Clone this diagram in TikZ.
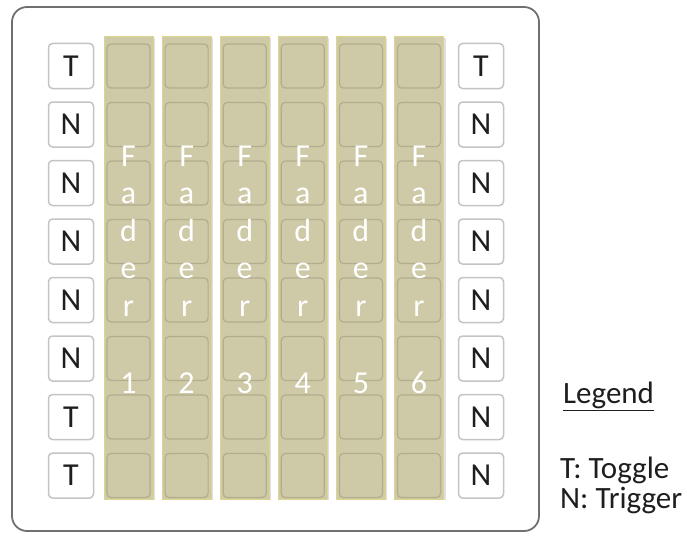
\documentclass[tikz,border=0pt]{standalone}
\usepackage{fontspec}
\setmainfont{Carlito}
\usetikzlibrary{positioning,shadows}
\definecolor{FaderFill}{HTML}{CEC9A6}
\definecolor{FaderEdge}{HTML}{DDD58E}
\definecolor{PadEdge}{HTML}{B2AD8C}
\definecolor{ButtonEdge}{HTML}{C4C4C4}
\definecolor{FrameGray}{HTML}{707070}
\definecolor{InkDark}{HTML}{1E1E1E}
\begin{document}
\begin{tikzpicture}[x=1pt,y=-1pt,
  frame/.style={draw=FrameGray,line width=1.8pt,rounded corners=15pt},
  strip/.style={draw=FaderEdge,fill=FaderFill,line width=1pt,minimum width=49pt,
                minimum height=462pt,inner sep=0pt,
                drop shadow={shadow xshift=2pt,shadow yshift=-1pt,opacity=0.25}},
  pad/.style={draw=PadEdge,line width=1.2pt,rounded corners=4pt,minimum width=43pt,
              minimum height=44pt,inner sep=0pt},
  button/.style={draw=ButtonEdge,fill=white,line width=1.5pt,rounded corners=4pt,
                 minimum size=45pt,inner sep=0pt,text=InkDark,font=\fontsize{32}{34}\selectfont},
  letter/.style={anchor=base,inner sep=0pt,text=white,font=\fontsize{32}{34}\selectfont},
  legend/.style={anchor=base west,inner sep=0pt,text=InkDark,font=\fontsize{31}{32}\selectfont}]
\useasboundingbox (0,0) rectangle (687,535);
\draw[frame] (12,7) rectangle (539,531);
% fader strips with their pads
\foreach \c in {1,...,6} {
  \node[strip] (fader\c) at ({128.5+58.1*(\c-1)},268) {};
  \foreach \r in {1,...,8}
    \node[pad] (pad\c-\r) at ({128.5+58.1*(\c-1)},{66+58.5*(\r-1)}) {};
}
% labels on the faders
\foreach \c in {1,...,6} {
  \foreach \ch [count=\k] in {F,a,d,e,r}
    \node[letter] (txt\c-\k) at ({128.5+58.1*(\c-1)},{166+37.5*(\k-1)}) {\ch};
  \node[letter] (num\c) at ({128.5+58.1*(\c-1)},393) {\c};
}
% side buttons
\foreach \l [count=\r] in {T,N,N,N,N,N,T,T}
  \node[button] (left\r) at (71,{66+58.5*(\r-1)}) {\l};
\foreach \l [count=\r] in {T,N,N,N,N,N,N,N}
  \node[button] (right\r) at (481,{66+58.5*(\r-1)}) {\l};
% legend
\node[legend] (legendtitle) at (563,403) {\underline{Legend}};
\node[legend] (toggle) at (560,478) {T: Toggle};
\node[legend] (trigger) at (560,508) {N: Trigger};
\end{tikzpicture}
\end{document}
